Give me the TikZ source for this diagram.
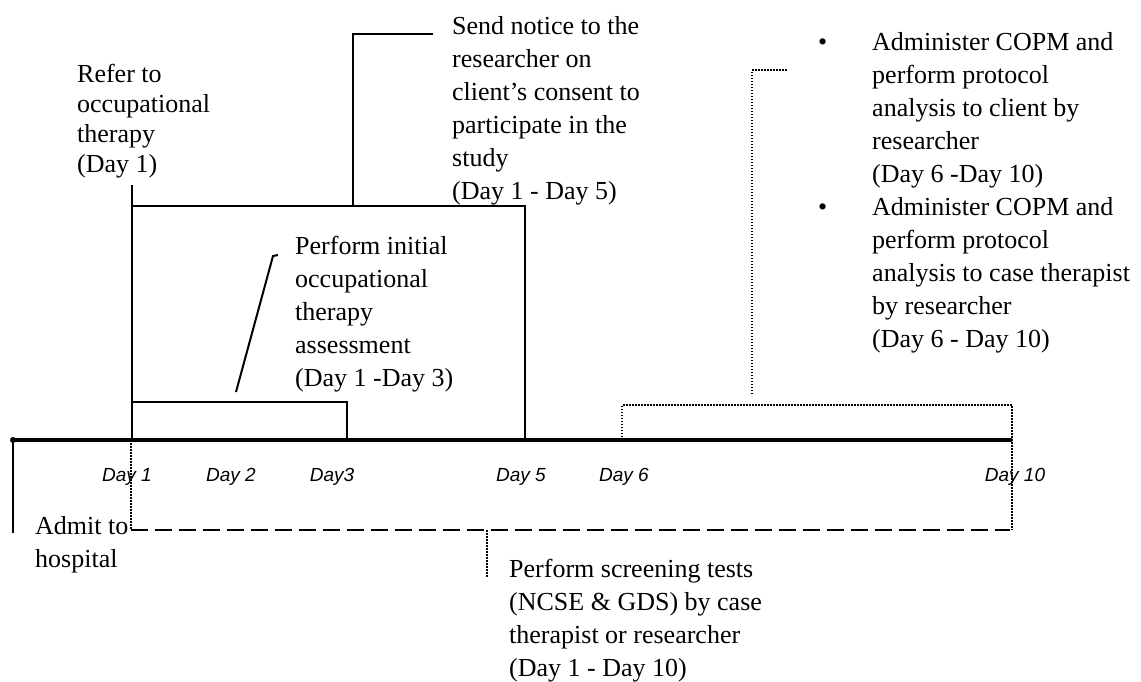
\documentclass[tikz,border=0pt]{standalone}
\usepackage{fontspec}
\setmainfont{Liberation Serif}
\setsansfont{Liberation Sans}
\newcommand\mylines[1]{\begin{tabular}[t]{@{}l@{}}#1\end{tabular}}
\begin{document}
\begin{tikzpicture}[x=1pt,y=-1pt,
  txt/.style={anchor=base west, inner sep=0pt, font=\fontsize{26}{33}\selectfont},
  tighttxt/.style={txt, font=\fontsize{26}{30}\selectfont},
  daylbl/.style={anchor=base, inner sep=0pt, font=\fontsize{19}{24}\selectfont\sffamily\itshape},
  solidln/.style={line width=2pt},
  axisln/.style={line width=4pt},
  dotln/.style={line width=2pt, dash pattern=on 1.5pt off 1.5pt},
  dashln/.style={line width=2.5pt, dash pattern=on 17pt off 7pt},
]
\useasboundingbox (0,0) rectangle (1141,681);

% timeline points
\coordinate (t0) at (13,440);
\coordinate (t1) at (132,440);
\coordinate (t3) at (347,440);
\coordinate (t5) at (525,440);
\coordinate (t6) at (622,440);
\coordinate (t10) at (1012,440);

% texts
\node[tighttxt] (refer) at (77,82) {\mylines{Refer to\\occupational\\therapy\\(Day 1)}};
\node[txt] (send) at (452,34) {\mylines{Send notice to the\\researcher on\\client's consent to\\participate in the\\study\\(Day 1 - Day 5)}};
\node[txt] (initial) at (295,254) {\mylines{Perform initial\\occupational\\therapy\\assessment\\(Day 1 -Day 3)}};
\node[txt] (copm) at (872,50) {\mylines{Administer COPM and\\perform protocol\\analysis to client by\\researcher\\(Day 6 -Day 10)\\Administer COPM and\\perform protocol\\analysis to case therapist\\by researcher\\(Day 6 - Day 10)}};
\node[txt] (b1) at (818,50) {•};
\node[txt] (b2) at (818,215) {•};
\node[txt] (admit) at (35,534) {\mylines{Admit to\\hospital}};
\node[txt] (screen) at (509,577) {\mylines{Perform screening tests\\(NCSE \& GDS) by case\\therapist or researcher\\(Day 1 - Day 10)}};

% day labels
\node[daylbl] (d1) at (127,481) {Day 1};
\node[daylbl] (d2) at (231,481) {Day 2};
\node[daylbl] (d3) at (332,481) {Day3};
\node[daylbl] (d5) at (521,481) {Day 5};
\node[daylbl] (d6) at (624,481) {Day 6};
\node[daylbl] (d10) at (1015,481) {Day 10};

% connector coordinates
\coordinate (admbot) at (13,533);
\coordinate (refertop) at (132,185);
\coordinate (bigtl) at (132,206);
\coordinate (bigtr) at (525,206);
\coordinate (sendbase) at (353,206);
\coordinate (sendcorner) at (353,34);
\coordinate (sendend) at (433,34);
\coordinate (smalltl) at (132,402);
\coordinate (smalltr) at (347,402);
\coordinate (diagbot) at (236,392);
\coordinate (diagtop) at (273,256);
\coordinate (diaghook) at (278,255);
\coordinate (dottl) at (622,405);
\coordinate (dottr) at (1012,405);
\coordinate (dotbr) at (1012,530);
\coordinate (conbot) at (752,394);
\coordinate (concorner) at (752,70);
\coordinate (conend) at (787,70);
\coordinate (d1dot) at (131,440);
\coordinate (dashl) at (131,530);
\coordinate (dashr) at (1010,530);
\coordinate (scrtop) at (487,530);
\coordinate (scrbot) at (487,577);

% timeline
\draw[axisln] (t0) -- (t10);
\fill (t0) circle (3);
\draw[solidln] (t0) -- (admbot);

% boxes and brackets
\draw[solidln] (refertop) -- (t1);
\draw[solidln] (bigtl) -- (bigtr) -- (t5);
\draw[solidln] (sendbase) -- (sendcorner) -- (sendend);
\draw[solidln] (smalltl) -- (smalltr) -- (t3);
\draw[solidln] (diagbot) -- (diagtop) -- (diaghook);

% dotted
\draw[dotln] (t6) -- (dottl) -- (dottr) -- (dotbr);
\draw[dotln] (conbot) -- (concorner) -- (conend);
\draw[dotln] (d1dot) -- (dashl);
\draw[dotln] (scrtop) -- (scrbot);

% dashed
\draw[dashln] (dashl) -- (dashr);
\end{tikzpicture}
\end{document}
